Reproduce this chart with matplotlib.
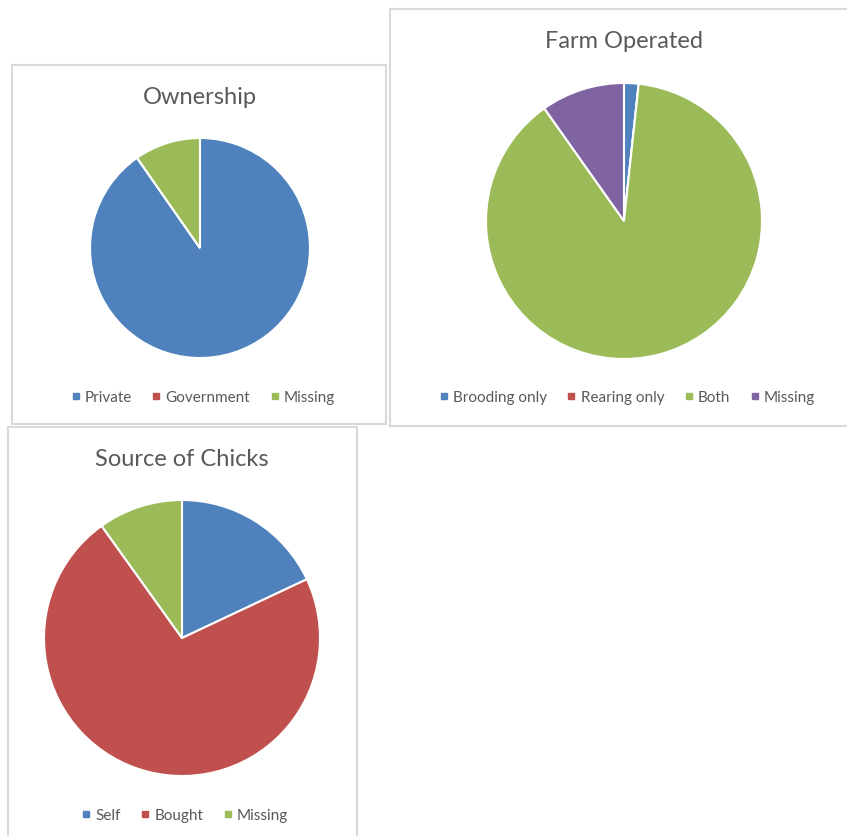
import matplotlib
matplotlib.use('Agg')
import matplotlib.pyplot as plt
from matplotlib.patches import Rectangle
from matplotlib.lines import Line2D

plt.rcParams['font.family'] = ['Lato', 'DejaVu Sans']

W, H = 847, 837

# data (percent)
own_labels = ['Private', 'Government', 'Missing']
own_values = [90.3, 0.0, 9.7]

farm_labels = ['Brooding only', 'Rearing only', 'Both', 'Missing']
farm_values = [1.7, 0.0, 88.5, 9.8]

chick_labels = ['Self', 'Bought', 'Missing']
chick_values = [18.0, 72.1, 9.9]

blue, red, green, purple = '#4F81BD', '#C0504D', '#9BBB59', '#8064A2'
text_col = '#595959'

fig = plt.figure(figsize=(W / 100, H / 100), dpi=100)


def fx(x):
    return x / W


def fy(y):
    return 1 - y / H


def panel(box, center, r, title, title_y, labels, values, colors, legend_y, legend_dx=3):
    x0, y0, x1, y1 = box
    fig.patches.append(Rectangle((fx(x0), fy(y1)), fx(x1) - fx(x0), fy(y0) - fy(y1),
                                 transform=fig.transFigure, facecolor='white',
                                 edgecolor='#D9D9D9', linewidth=1.5, zorder=-5))
    cx, cy = center
    ax = fig.add_axes([fx(cx - r), fy(cy + r), 2 * r / W, 2 * r / H])
    ax.set_zorder(2)
    ax.pie(values, colors=colors, startangle=90, counterclock=False, radius=1,
           wedgeprops=dict(edgecolor='white', linewidth=1.5))
    ax.set_xlim(-1, 1)
    ax.set_ylim(-1, 1)
    ax.set_aspect('equal')
    ax.axis('off')
    fig.text(fx(cx), fy(title_y), title, ha='center', va='center',
             fontsize=17, color=text_col)
    handles = [Line2D([], [], marker='s', linestyle='none', markersize=5,
                      color=c) for c in colors]
    fig.legend(handles, labels, loc='center', bbox_to_anchor=(fx(cx + legend_dx), fy(legend_y)),
               ncol=len(labels), frameon=False, fontsize=11, handlelength=0.6,
               handletextpad=0.3, columnspacing=1.3, labelcolor=text_col,
               borderaxespad=0, borderpad=0)


panel((12, 66, 386, 425), (200, 249), 110, 'Ownership', 98,
      own_labels, own_values, [blue, red, green], 398)
panel((390, 10, 860, 427), (624, 222), 138, 'Farm Operated', 42,
      farm_labels, farm_values, [blue, red, green, purple], 398)
panel((8, 428, 357, 850), (182, 639), 138, 'Source of Chicks', 460,
      chick_labels, chick_values, [blue, red, green], 816, legend_dx=3)

fig.savefig('out.png', dpi=100)
